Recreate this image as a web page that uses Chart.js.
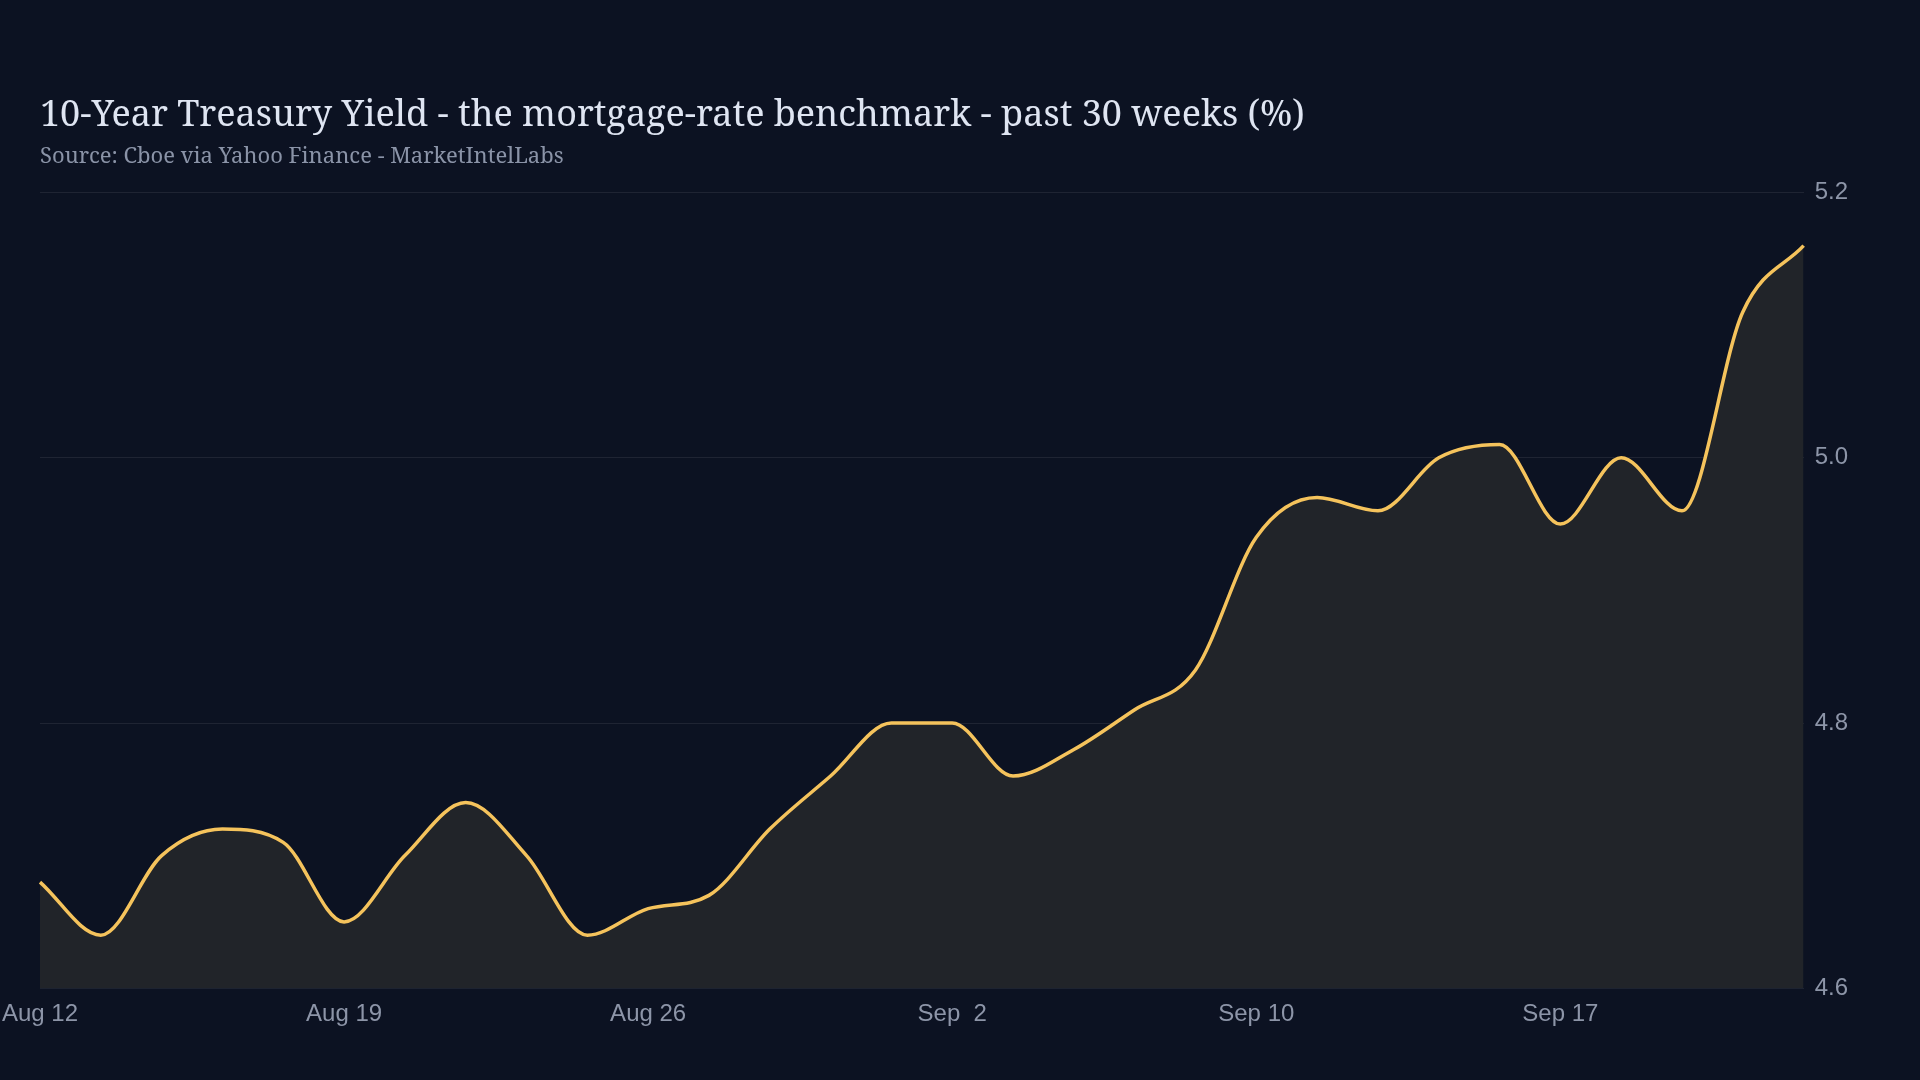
<!DOCTYPE html>
<html>
<head>
<meta charset="utf-8">
<title>10-Year Treasury Yield</title>
<script src="https://cdn.jsdelivr.net/npm/chart.js@4.4.1/dist/chart.umd.min.js"></script>
<style>
    html, body {
        margin: 0;
        padding: 0;
        background: #0c1222;
    }
    #wrap {
        width: 1920px;
        height: 1080px;
        position: relative;
    }
</style>
</head>
<body>
<div id="wrap"><canvas id="yield-chart"></canvas></div>
<script>
// Trading days shown on the x axis
const dates = [
    'Aug 12', 'Aug 13', 'Aug 14', 'Aug 15', 'Aug 16',
    'Aug 19', 'Aug 20', 'Aug 21', 'Aug 22', 'Aug 23',
    'Aug 26', 'Aug 27', 'Aug 28', 'Aug 29', 'Aug 30',
    'Sep  2', 'Sep  3', 'Sep  4', 'Sep  5', 'Sep  6',
    'Sep 10', 'Sep 11', 'Sep 12', 'Sep 13', 'Sep 16',
    'Sep 17', 'Sep 18', 'Sep 19', 'Sep 20', 'Sep 23'
];

// Which dates get a tick label
const tickDates = ['Aug 12', 'Aug 19', 'Aug 26', 'Sep  2', 'Sep 10', 'Sep 17'];

// 10-year yield, percent
const yields = [
    4.68, 4.64, 4.70, 4.72, 4.71,
    4.65, 4.70, 4.74, 4.70, 4.64,
    4.66, 4.67, 4.72, 4.76, 4.80,
    4.80, 4.76, 4.78, 4.81, 4.84,
    4.94, 4.97, 4.96, 5.00, 5.01,
    4.95, 5.00, 4.96, 5.11, 5.16
];

// Y axis ticks
const yTicks = [4.6, 4.8, 5.0, 5.2];

const serif = "'Noto Serif', 'DejaVu Serif', serif";
const sans = "'Liberation Sans', Arial, sans-serif";

const ctx = document.getElementById('yield-chart');

new Chart(ctx, {
    type: 'line',
    data: {
        labels: dates,
        datasets: [{
            label: '10Y yield',
            data: yields,
            borderColor: '#f5c35c',
            borderWidth: 3.5,
            backgroundColor: '#212429',
            fill: 'start',
            pointRadius: 0,
            cubicInterpolationMode: 'monotone'
        }]
    },
    options: {
        responsive: true,
        maintainAspectRatio: false,
        animation: false,
        layout: {
            padding: { top: 94.5, right: 61, bottom: 47, left: 40 }
        },
        plugins: {
            legend: { display: false },
            tooltip: { enabled: false },
            title: {
                display: true,
                text: '10-Year Treasury Yield - the mortgage-rate benchmark - past 30 weeks (%)',
                align: 'start',
                color: '#dfe5f2',
                font: { family: serif, size: 36, weight: 'normal' },
                padding: { top: 0, bottom: 6 }
            },
            subtitle: {
                display: true,
                text: 'Source: Cboe via Yahoo Finance - MarketIntelLabs',
                align: 'start',
                color: '#8a93a7',
                font: { family: serif, size: 22 },
                padding: { top: 0, bottom: 22.5 }
            }
        },
        scales: {
            x: {
                grid: { display: false },
                border: { display: false },
                // let the first date label hang into the left margin
                afterFit: function(scale) {
                    scale.paddingLeft = 0;
                },
                ticks: {
                    autoSkip: false,
                    maxRotation: 0,
                    padding: 4,
                    color: '#8d95a8',
                    font: { family: sans, size: 24 },
                    callback: function(value) {
                        const label = this.getLabelForValue(value);
                        return tickDates.includes(label) ? label : '';
                    }
                }
            },
            y: {
                position: 'right',
                min: yTicks[0],
                max: yTicks[yTicks.length - 1],
                afterBuildTicks: function(scale) {
                    scale.ticks = yTicks.map(v => ({ value: v }));
                },
                grid: {
                    color: 'rgba(255, 255, 255, 0.08)',
                    lineWidth: 1,
                    drawTicks: false
                },
                border: { display: false },
                ticks: {
                    padding: 11,
                    color: '#8d95a8',
                    font: { family: sans, size: 24 },
                    callback: v => v.toFixed(1)
                }
            }
        }
    }
});
</script>
</body>
</html>
